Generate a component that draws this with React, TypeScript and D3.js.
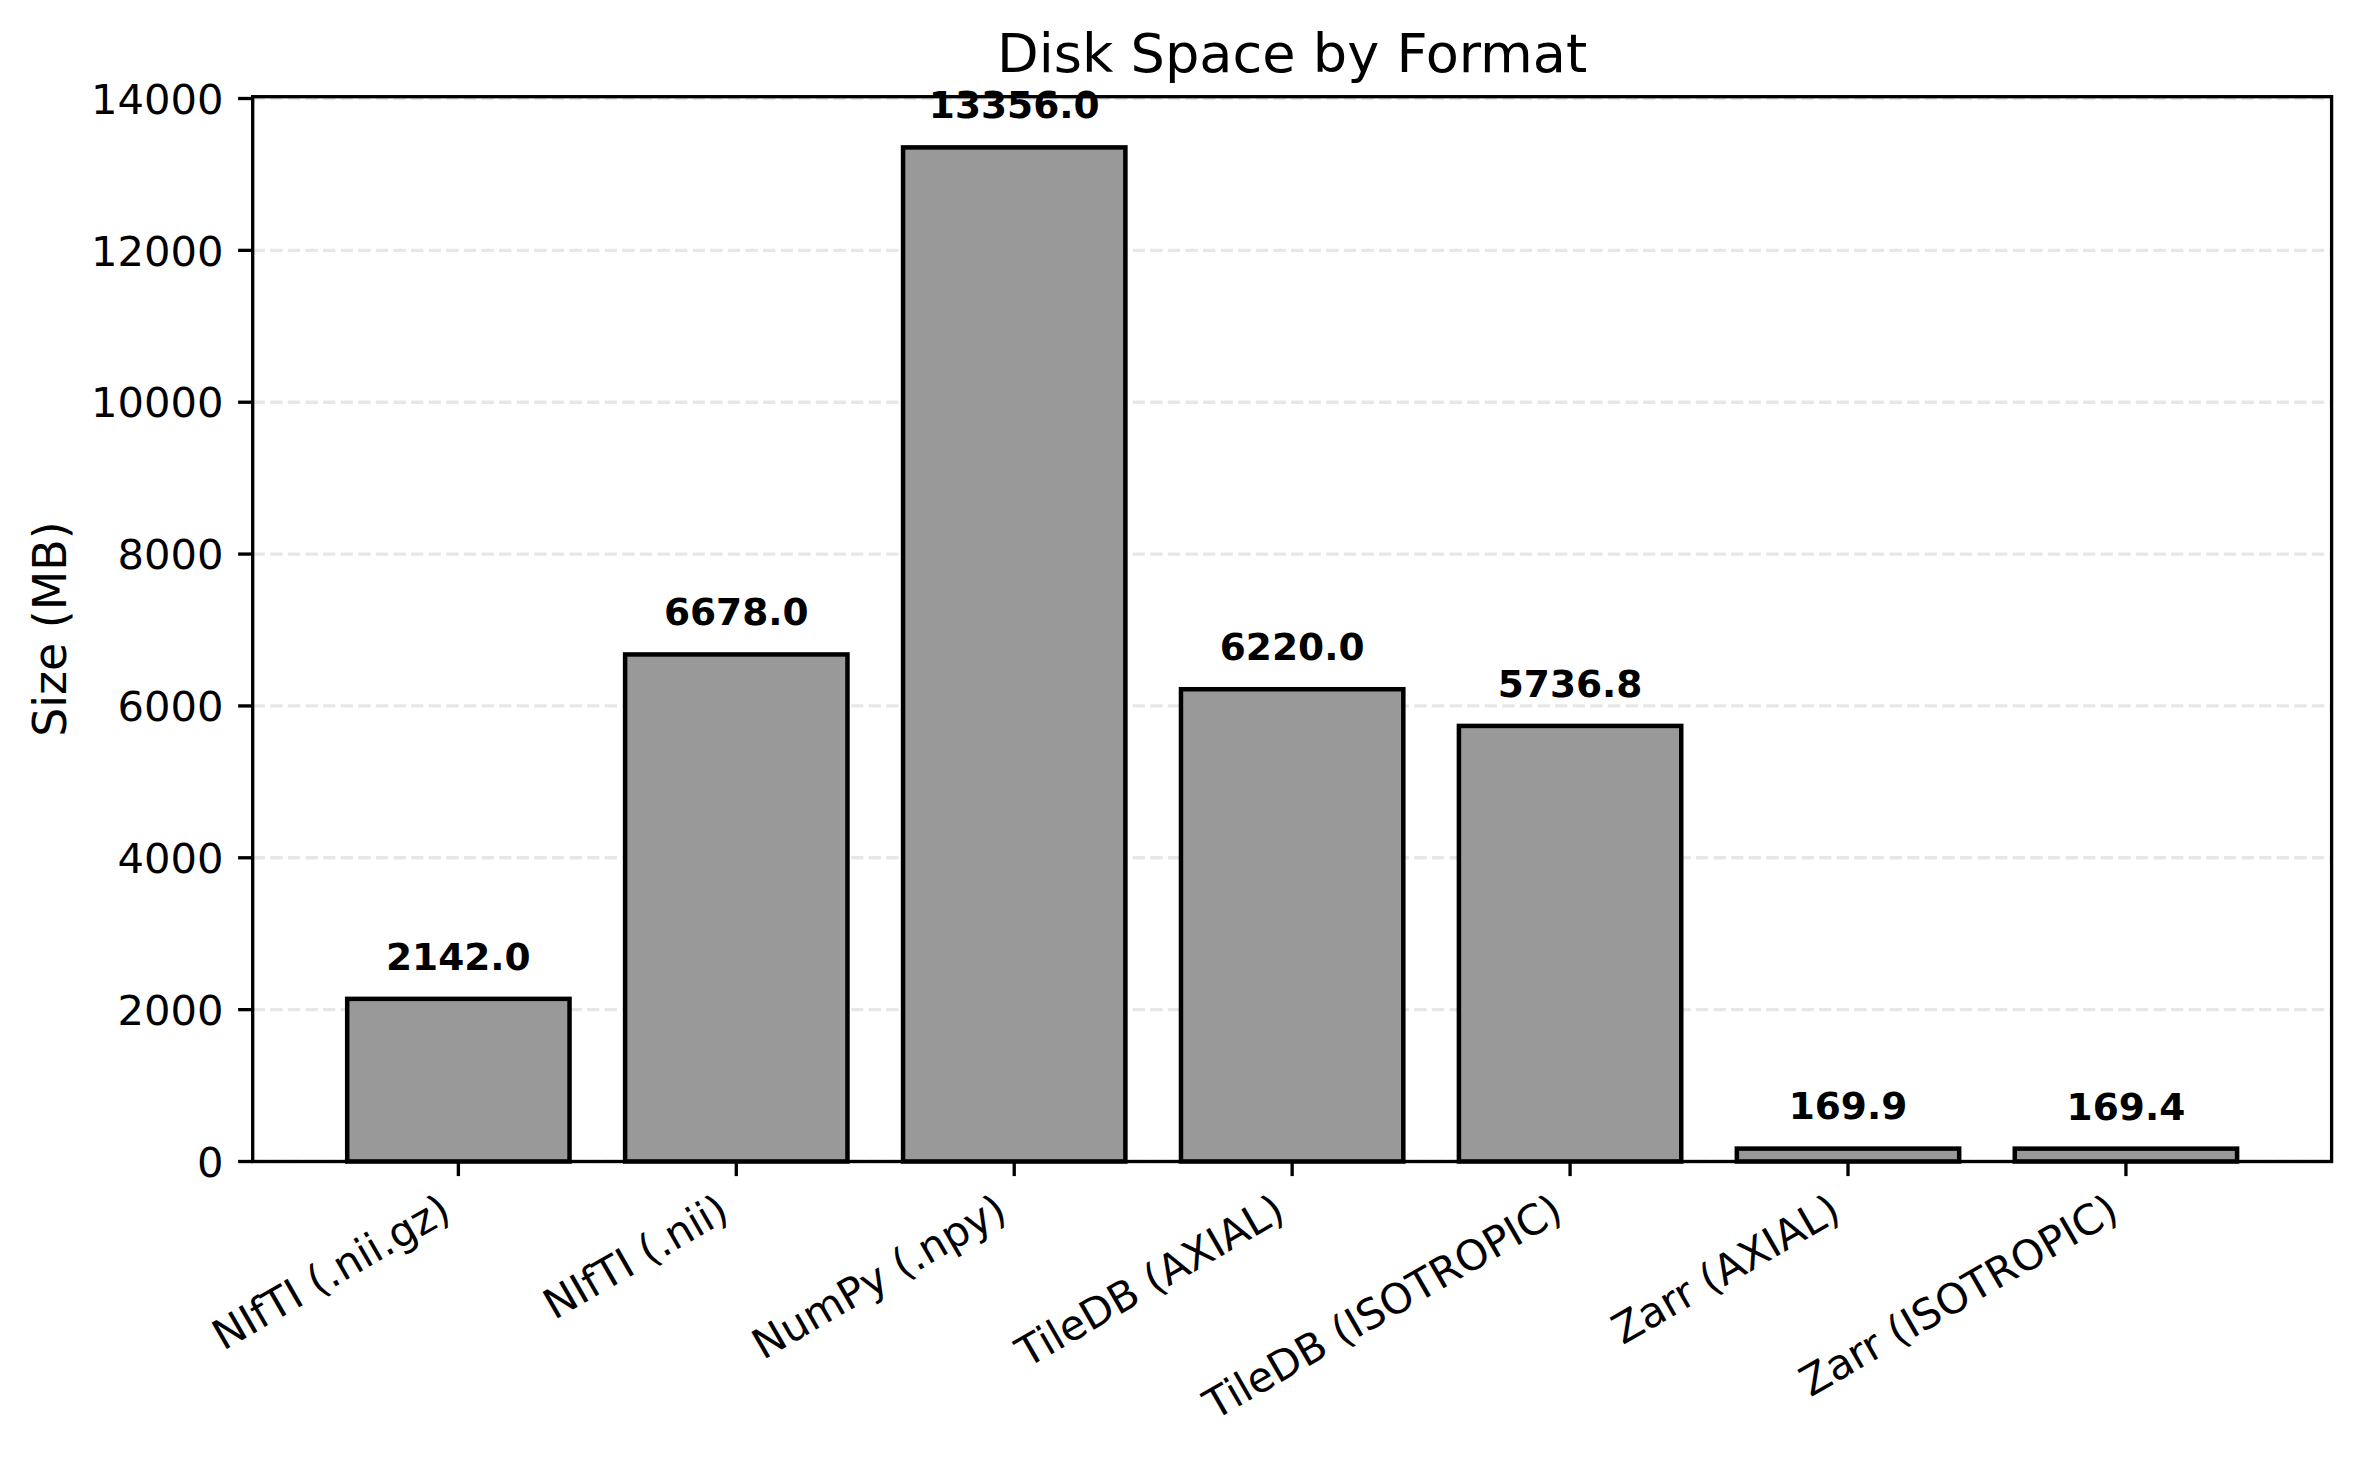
import * as d3 from "d3";

// chart data
const formats = [
  "NIfTI (.nii.gz)",
  "NIfTI (.nii)",
  "NumPy (.npy)",
  "TileDB (AXIAL)",
  "TileDB (ISOTROPIC)",
  "Zarr (AXIAL)",
  "Zarr (ISOTROPIC)",
];
const sizesMB = [2142.0, 6678.0, 13356.0, 6220.0, 5736.8, 169.9, 169.4];
const yTicks = [0, 2000, 4000, 6000, 8000, 10000, 12000, 14000];

const W = 2361;
const H = 1460;
const PLOT = { left: 252.7, right: 2331.6, top: 96.7, bottom: 1161.5 };
const FONT = "'DejaVu Sans', sans-serif";
const TICK_FS = 41.67; // 10pt @ 300dpi
const YLABEL_FS = 45.83; // 11pt
const TITLE_FS = 54.17; // 13pt
const LABEL_FS = 37.5; // 9pt bold
const TICK_LEN = 14.6;
const LW = 3.33;
const BAR_W = 0.8;

const App = () => {
  const n = formats.length;
  const maxV = d3.max(sizesMB) || 0;
  const span = n - 1 + BAR_W;
  const xScale = d3
    .scaleLinear()
    .domain([-BAR_W / 2 - 0.05 * span, n - 1 + BAR_W / 2 + 0.05 * span])
    .range([PLOT.left, PLOT.right]);
  const yScale = d3
    .scaleLinear()
    .domain([0, maxV * 1.05])
    .range([PLOT.bottom, PLOT.top]);

  const labelPad = TICK_LEN + 14.6;

  return (
    <svg
      width={W}
      height={H}
      style={{ position: "absolute", left: 0, top: 0, background: "white" }}
      fontFamily={FONT}
    >
      <rect width={W} height={H} fill="white" />

      {/* grid */}
      {yTicks.map((t) => (
        <line
          key={"g" + t}
          x1={PLOT.left}
          x2={PLOT.right}
          y1={yScale(t)}
          y2={yScale(t)}
          stroke="#e7e7e7"
          strokeWidth={LW}
          strokeDasharray="12.3,5.3"
        />
      ))}

      {/* bars */}
      {sizesMB.map((v, i) => (
        <rect
          key={"b" + i}
          x={xScale(i - BAR_W / 2)}
          y={yScale(v)}
          width={xScale(i + BAR_W / 2) - xScale(i - BAR_W / 2)}
          height={yScale(0) - yScale(v)}
          fill="#999999"
          stroke="black"
          strokeWidth={4.5}
        />
      ))}

      {/* value labels */}
      {sizesMB.map((v, i) => (
        <text
          key={"v" + i}
          x={xScale(i)}
          y={yScale(v + maxV * 0.02) - 0.236 * LABEL_FS}
          textAnchor="middle"
          fontSize={LABEL_FS}
          fontWeight="bold"
        >
          {v.toFixed(1)}
        </text>
      ))}

      {/* spines */}
      <rect
        x={PLOT.left}
        y={PLOT.top}
        width={PLOT.right - PLOT.left}
        height={PLOT.bottom - PLOT.top}
        fill="none"
        stroke="black"
        strokeWidth={LW}
        strokeLinecap="square"
      />

      {/* y ticks */}
      {yTicks.map((t) => (
        <g key={"y" + t}>
          <line
            x1={PLOT.left - TICK_LEN}
            x2={PLOT.left}
            y1={yScale(t)}
            y2={yScale(t)}
            stroke="black"
            strokeWidth={LW}
          />
          <text
            x={PLOT.left - labelPad}
            y={yScale(t) + 0.3645 * TICK_FS}
            textAnchor="end"
            fontSize={TICK_FS}
          >
            {t}
          </text>
        </g>
      ))}

      {/* x ticks */}
      {formats.map((f, i) => {
        const tx = xScale(i);
        const ax = tx - 0.5 * 0.236 * TICK_FS;
        const ay = PLOT.bottom + labelPad + 0.866 * 0.76 * TICK_FS;
        return (
          <g key={"x" + i}>
            <line
              x1={tx}
              x2={tx}
              y1={PLOT.bottom}
              y2={PLOT.bottom + TICK_LEN}
              stroke="black"
              strokeWidth={LW}
            />
            <text
              transform={`translate(${ax},${ay}) rotate(-30)`}
              textAnchor="end"
              fontSize={TICK_FS}
            >
              {f}
            </text>
          </g>
        );
      })}

      {/* axis label */}
      <text
        transform={`translate(66,${(PLOT.top + PLOT.bottom) / 2}) rotate(-90)`}
        textAnchor="middle"
        fontSize={YLABEL_FS}
      >
        Size (MB)
      </text>

      {/* title */}
      <text
        x={(PLOT.left + PLOT.right) / 2}
        y={PLOT.top - 25}
        textAnchor="middle"
        fontSize={TITLE_FS}
      >
        Disk Space by Format
      </text>
    </svg>
  );
};

export default App;
